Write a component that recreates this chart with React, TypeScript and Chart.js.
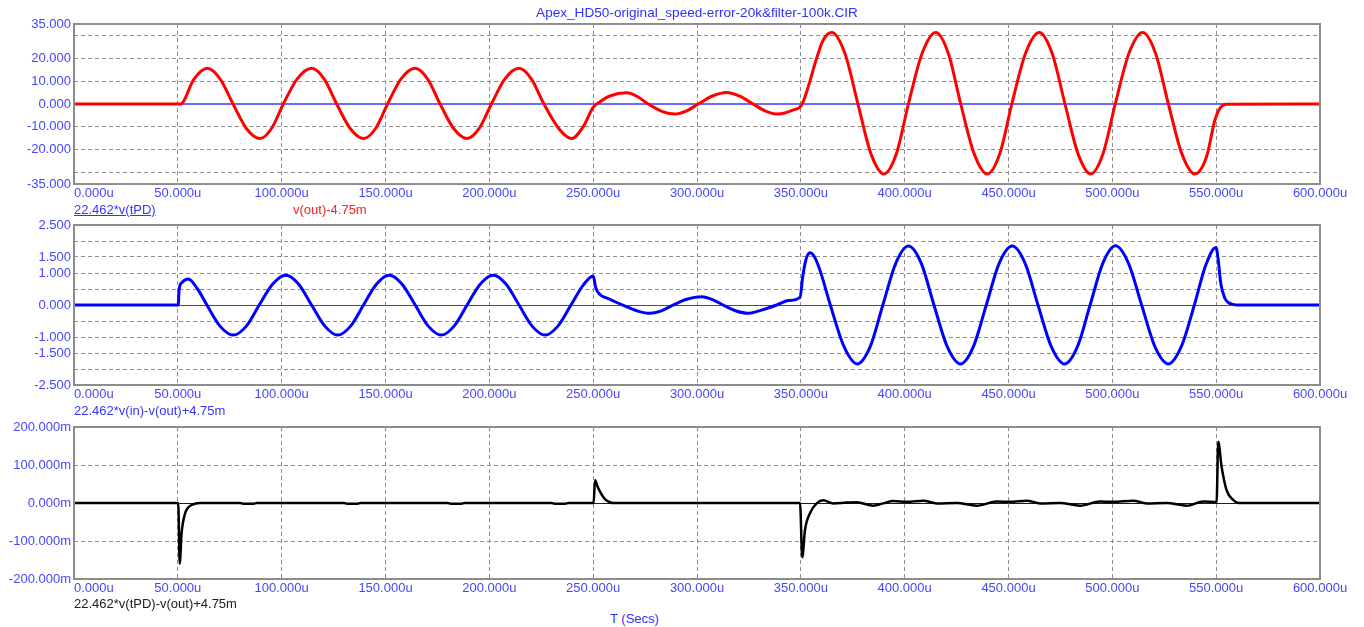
import React, { useEffect, useRef } from 'react';
import { Chart, registerables } from 'chart.js';

Chart.register(...registerables);

// ---------- axis ticks ----------
const xTicks = [0, 50, 100, 150, 200, 250, 300, 350, 400, 450, 500, 550, 600];
const topYTicks = [-35, -30, -20, -10, 0, 10, 20, 30, 35];
const topYLabels = [-35, -20, -10, 0, 10, 20, 35];
const midYTicks = [-2.5, -2, -1.5, -1, -0.5, 0, 0.5, 1, 1.5, 2, 2.5];
const midYLabels = [-2.5, -1.5, -1, 0, 1, 1.5, 2.5];
const botYTicks = [-200, -100, 0, 100, 200];
const botYLabels = [-200, -100, 0, 100, 200];

// ---------- top panel: v(out)-4.75m (time in us) ----------
const outT = [
  0, 50, 51.3, 57.7, 64.2, 70.4, 76.6, 83,
  89.6, 95.2, 100.8, 107.5, 114.5, 120.5, 126.5, 133,
  139.5, 145.3, 151, 157.5, 164.3, 170.3, 176.3, 182.8,
  189.4, 195.2, 201, 207.5, 214.3, 220.3, 226.3, 234,
  239.6, 245.2, 250, 253.3, 258, 266.1, 271.3, 276.5,
  283, 289.4, 295, 300.6, 307.5, 314.3, 320.6, 327,
  333, 339, 346.4, 350.4, 353.6, 357.6, 360.8, 364.9,
  371.2, 377.5, 383.7, 390, 396, 401.8, 408.4, 415,
  421, 427, 433.4, 439.8, 445.8, 451.6, 458.2, 464.8,
  471, 477.2, 483.4, 489.6, 495.5, 501.4, 508, 514.6,
  520.8, 527, 533.4, 539.8, 545.4, 549.4, 551.8, 555,
  600,
];
const outV = [
  0, 0, 0, 10.8, 15.6, 10.9, 0, -10.7,
  -15.1, -10.6, 0, 11.0, 15.6, 10.9, 0, -10.7,
  -15.1, -10.6, 0, 11.0, 15.6, 10.9, 0, -10.7,
  -15.1, -10.6, 0, 11.0, 15.6, 10.9, 0, -11.4,
  -15.1, -9.9, -1.5, 1.0, 3.5, 4.9, 3.3, 0,
  -3.2, -4.4, -3.0, 0, 3.5, 5.0, 3.4, 0,
  -3.1, -4.4, -2.6, -0.4, 7.6, 20, 28, 31.3,
  22.2, 0, -21.6, -30.6, -21.8, 0, 22.2, 31.3,
  22.2, 0, -21.6, -30.6, -21.8, 0, 22.2, 31.3,
  22.2, 0, -21.6, -30.6, -21.8, 0, 22.2, 31.3,
  22.2, 0, -21.6, -30.6, -23, -7, -1.9, -0.1,
  0,
];

// ---------- middle panel: 22.462*v(in)-v(out)+4.75m ----------
const midT = [
  0, 50.2, 50.6, 52, 55, 59.5, 64, 70.3,
  76.7, 83, 89.2, 95.6, 102, 108.2, 114.4, 120.8,
  127, 133.2, 139.4, 145.6, 151.8, 158, 164.3, 170.6,
  176.9, 183, 189.3, 195.6, 201.9, 208.1, 214.3, 220.6,
  226.9, 233, 239.3, 245.3, 250, 251.2, 252.5, 258,
  266, 271.5, 277.4, 282.5, 287, 295, 302.2, 307.5,
  312.5, 318.5, 324.7, 331, 338.4, 344, 349.6, 350.9,
  352.4, 354.4, 356.6, 359.2, 364.2, 370.8, 377.2, 383.4,
  389.5, 395.7, 401.8, 408, 414.1, 420.5, 426.9, 433.1,
  439.3, 445.5, 451.8, 458, 464.2, 470.6, 477, 483.2,
  489.3, 495.4, 501.5, 507.8, 514.1, 520.5, 527, 533.2,
  539.5, 545, 549.9, 551, 552.2, 554.2, 556, 558.2,
  560, 600,
];
const midV = [
  0, 0, 0.47, 0.7, 0.81, 0.5, 0, -0.66,
  -0.94, -0.66, 0, 0.65, 0.93, 0.65, 0, -0.66,
  -0.94, -0.66, 0, 0.65, 0.93, 0.65, 0, -0.66,
  -0.94, -0.66, 0, 0.65, 0.93, 0.65, 0, -0.66,
  -0.94, -0.66, 0, 0.63, 0.91, 0.55, 0.38, 0.18,
  -0.05, -0.19, -0.26, -0.19, -0.05, 0.18, 0.26, 0.17,
  0, -0.18, -0.26, -0.16, 0, 0.14, 0.24, 0.88,
  1.4, 1.63, 1.5, 1.09, 0, -1.3, -1.84, -1.3,
  0, 1.3, 1.84, 1.3, 0, -1.3, -1.84, -1.3,
  0, 1.3, 1.84, 1.3, 0, -1.3, -1.84, -1.3,
  0, 1.3, 1.85, 1.3, 0, -1.3, -1.84, -1.3,
  0, 1.25, 1.8, 1.41, 0.68, 0.21, 0.07, 0.02,
  0, 0,
];

// ---------- bottom panel: 22.462*v(tPD)-v(out)+4.75m (in mV) ----------
const errT = [
  0, 50.2, 50.9, 51.8, 53.5, 55, 56.7, 60.7,
  80, 81.5, 86.5, 88, 130, 131.5, 136.5, 138,
  180, 181.5, 186.5, 188, 230, 231.5, 236.5, 238,
  250.2, 250.9, 252, 253.3, 255.7, 258, 260, 349.6,
  350.7, 352, 354.4, 357.6, 360.8, 365.6, 372, 376.9,
  384.9, 389.7, 394.5, 401, 409, 415.4, 425, 434.7,
  444.3, 450.7, 458.8, 465.2, 474.8, 484.4, 494, 500.4,
  510, 516.5, 526.1, 535.8, 543.8, 550.2, 551, 552.6,
  555, 558.2, 560.7, 600,
];
const errV = [
  0, 0, -160, -80, -27, -12, -5, 0,
  0, -2, -2, 0, 0, -2, -2, 0,
  0, -2, -2, 0, 0, -2, -2, 0,
  0, 60, 45, 30, 10, 2, 0, 0,
  -143, -71, -27, -1, 7, -1, 1, 2,
  -7, -1, 5, 3, 6, -1, 0, -7,
  4, 3, 6, -1, 0, -7, 4, 3,
  6, -1, 0, -7, 4, 2, 161, 96,
  34, 8, 0, 0,
];

// ---------- styling ----------
const FONT = "'Liberation Sans', Arial, sans-serif";
const TEXT_BLUE = '#4646ff';
const GRID = '#8e8e8e';
const BORDER = '#8c8c8c';

const toPoints = (t: number[], v: number[]) => t.map((x, i) => ({ x, y: v[i] }));

const decor = {
  id: 'decor',
  beforeDatasetsDraw(chart: any, _args: any, opts: any) {
    const { ctx, chartArea: a, scales } = chart;
    const w = opts.zeroWidth;
    let y0 = Math.round(scales.y.getPixelForValue(0));
    if (w % 2 === 1) y0 += 0.5;
    ctx.save();
    ctx.strokeStyle = opts.zeroColor;
    ctx.lineWidth = w;
    ctx.beginPath();
    ctx.moveTo(a.left, y0);
    ctx.lineTo(a.right, y0);
    ctx.stroke();
    ctx.restore();
  },
  afterDatasetsDraw(chart: any) {
    const { ctx, chartArea: a, scales } = chart;
    ctx.save();
    ctx.strokeStyle = BORDER;
    ctx.lineWidth = 2;
    ctx.strokeRect(a.left, a.top, a.right - a.left, a.bottom - a.top);
    ctx.fillStyle = TEXT_BLUE;
    ctx.font = `13px ${FONT}`;
    ctx.textBaseline = 'alphabetic';
    xTicks.forEach((v, i) => {
      const x = scales.x.getPixelForValue(v);
      ctx.textAlign = i === 0 ? 'left' : 'center';
      ctx.fillText(v.toFixed(3) + 'u', x, a.bottom + 13);
    });
    ctx.restore();
  },
};

type Panel = {
  datasets: any[];
  yTicks: number[];
  yLabels: number[];
  yMin: number;
  yMax: number;
  suffix: string;
  padTop: number;
  padBottom: number;
  zeroColor: string;
  zeroWidth: number;
};

function buildChart(canvas: HTMLCanvasElement, p: Panel) {
  return new Chart(canvas, {
    type: 'line',
    data: { datasets: p.datasets },
    plugins: [decor],
    options: {
      animation: false,
      responsive: false,
      maintainAspectRatio: false,
      layout: { padding: { left: 0, right: 44, top: p.padTop, bottom: p.padBottom } },
      elements: {
        point: { radius: 0 },
        line: { borderJoinStyle: 'round', borderCapStyle: 'round' },
      },
      plugins: {
        legend: { display: false },
        tooltip: { enabled: false },
        decor: { zeroColor: p.zeroColor, zeroWidth: p.zeroWidth },
      } as any,
      scales: {
        x: {
          type: 'linear',
          min: 0,
          max: 600,
          afterBuildTicks: (s: any) => {
            s.ticks = xTicks.map((value) => ({ value }));
          },
          afterFit: (s: any) => {
            s.height = 0;
          },
          ticks: { display: false },
          grid: {
            drawTicks: false,
            lineWidth: 1,
            color: (c: any) =>
              c.tick && (c.tick.value === 0 || c.tick.value === 600) ? 'rgba(0,0,0,0)' : GRID,
          },
          border: { display: false, dash: [4, 3] },
        },
        y: {
          type: 'linear',
          min: p.yMin,
          max: p.yMax,
          afterBuildTicks: (s: any) => {
            s.ticks = p.yTicks.map((value) => ({ value }));
          },
          afterFit: (s: any) => {
            s.width = 74;
          },
          ticks: {
            autoSkip: false,
            padding: 3,
            color: TEXT_BLUE,
            font: { family: FONT, size: 13 },
            callback: (value: any) =>
              p.yLabels.some((l) => Math.abs(l - Number(value)) < 1e-9)
                ? Number(value).toFixed(3) + p.suffix
                : '',
          },
          grid: {
            drawTicks: false,
            lineWidth: 1,
            color: (c: any) =>
              c.tick && (c.tick.value === 0 || c.tick.value === p.yMin || c.tick.value === p.yMax)
                ? 'rgba(0,0,0,0)'
                : GRID,
          },
          border: { display: false, dash: [4, 3] },
        },
      },
    } as any,
  });
}

const lineDs = (label: string, t: number[], v: number[], color: string, width: number) => ({
  label,
  data: toPoints(t, v),
  borderColor: color,
  backgroundColor: color,
  borderWidth: width,
  fill: false,
  pointRadius: 0,
  cubicInterpolationMode: 'monotone',
});

const textStyle: React.CSSProperties = {
  position: 'absolute',
  fontFamily: FONT,
  fontSize: 13,
  lineHeight: '15px',
  whiteSpace: 'nowrap',
};

export default function App() {
  const topRef = useRef<HTMLCanvasElement>(null);
  const midRef = useRef<HTMLCanvasElement>(null);
  const botRef = useRef<HTMLCanvasElement>(null);

  useEffect(() => {
    const charts: Chart[] = [];
    if (topRef.current) {
      charts.push(
        buildChart(topRef.current, {
          datasets: [
            lineDs('v(out)-4.75m', outT, outV, '#ff0000', 3),
            lineDs('22.462*v(tPD)', outT, outV, '#0000ff', 1),
          ],
          yTicks: topYTicks,
          yLabels: topYLabels,
          yMin: -35,
          yMax: 35,
          suffix: '',
          padTop: 24,
          padBottom: 16,
          zeroColor: '#6a6aff',
          zeroWidth: 2,
        })
      );
    }
    if (midRef.current) {
      charts.push(
        buildChart(midRef.current, {
          datasets: [lineDs('22.462*v(in)-v(out)+4.75m', midT, midV, '#0000ff', 3)],
          yTicks: midYTicks,
          yLabels: midYLabels,
          yMin: -2.5,
          yMax: 2.5,
          suffix: '',
          padTop: 25,
          padBottom: 15,
          zeroColor: '#3a3aff',
          zeroWidth: 1,
        })
      );
    }
    if (botRef.current) {
      charts.push(
        buildChart(botRef.current, {
          datasets: [lineDs('22.462*v(tPD)-v(out)+4.75m', errT, errV, '#000000', 2.5)],
          yTicks: botYTicks,
          yLabels: botYLabels,
          yMin: -200,
          yMax: 200,
          suffix: 'm',
          padTop: 27,
          padBottom: 21,
          zeroColor: '#0000ff',
          zeroWidth: 1,
        })
      );
    }
    return () => charts.forEach((c) => c.destroy());
  }, []);

  return (
    <div
      style={{
        position: 'absolute',
        left: 0,
        top: 0,
        width: 1364,
        height: 627,
        background: '#ffffff',
        overflow: 'hidden',
      }}
    >
      <canvas ref={topRef} width={1364} height={200} style={{ position: 'absolute', left: 0, top: 0 }} />
      <canvas ref={midRef} width={1364} height={200} style={{ position: 'absolute', left: 0, top: 200 }} />
      <canvas ref={botRef} width={1364} height={200} style={{ position: 'absolute', left: 0, top: 400 }} />

      <div
        style={{
          ...textStyle,
          fontSize: 13.6,
          left: 74,
          width: 1246,
          top: 5,
          textAlign: 'center',
          color: '#3030ff',
        }}
      >
        Apex_HD50-original_speed-error-20k&amp;filter-100k.CIR
      </div>
      <div style={{ ...textStyle, left: 74, top: 202, color: '#3434ff', textDecoration: 'underline' }}>
        22.462*v(tPD)
      </div>
      <div style={{ ...textStyle, left: 293, top: 202, color: '#ff2020' }}>v(out)-4.75m</div>
      <div style={{ ...textStyle, left: 74, top: 403, color: '#3434ff' }}>22.462*v(in)-v(out)+4.75m</div>
      <div style={{ ...textStyle, left: 74, top: 596, color: '#202020' }}>22.462*v(tPD)-v(out)+4.75m</div>
      <div style={{ ...textStyle, left: 610, top: 611, color: '#3434ff' }}>T (Secs)</div>
    </div>
  );
}
